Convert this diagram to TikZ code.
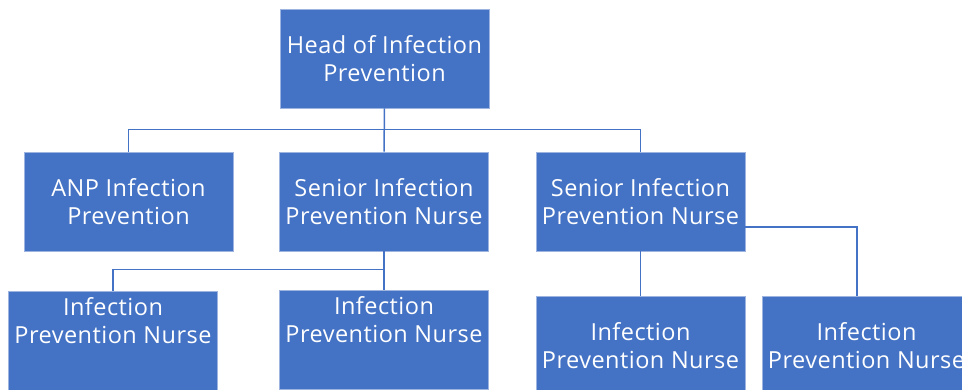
\documentclass[tikz,border=0pt]{standalone}
\usepackage{fontspec}
\setmainfont{Open Sans}[LetterSpace=2]
\usepackage{tikz}
\usetikzlibrary{positioning}
\definecolor{boxblue}{HTML}{4472C4}
\definecolor{boxedge}{HTML}{9DB4E0}

\begin{document}
\begin{tikzpicture}[x=1pt, y=-1pt,
    box/.style={rectangle, fill=boxblue, draw=boxedge, line width=0.8pt,
        minimum width=209pt, minimum height=99pt, inner sep=0pt,
        align=center, text=white, font=\fontsize{23.5}{28}\selectfont},
    lifted/.style={text height=52pt, text depth=47pt},
    link/.style={draw=boxblue, line width=1.5pt}]
    \useasboundingbox (0,0) rectangle (962,389);
    \clip (0,0) rectangle (962,389);

    % top level
    \node[box] (head) at (384.5,58.5) {Head of Infection\\Prevention};

    % second level
    \node[box] (anp)  at (128.5,201.5) {ANP Infection\\Prevention};
    \node[box] (sen1) at (384,201.5) {Senior Infection\\Prevention Nurse};
    \node[box] (sen2) at (640.5,201.5) {Senior Infection\\Prevention Nurse};

    % third level
    \node[box, lifted] (ipn1) at (113,340.5) {Infection\\Prevention Nurse};
    \node[box, lifted] (ipn2) at (384,339.5) {Infection\\Prevention Nurse};
    \node[box] (ipn3) at (640.5,345.5) {Infection\\Prevention Nurse};
    \node[box] (ipn4) at (866.5,345.5) {Infection\\Prevention Nurse};

    % connectors
    \draw[link] (head.south) -- (sen1.north);
    \draw[link] (anp.north) -- ++(0,-22) -| (sen2.north);
    \draw[link] (sen1.south) -- ++(0,18) -| (ipn1.north);
    \draw[link] (sen1.south) -- (ipn2.north);
    \draw[link] (sen2.south) -- (ipn3.north);
    \draw[link] ([yshift=-25.5pt]sen2.east) -| ([xshift=-9.5pt]ipn4.north);
\end{tikzpicture}
\end{document}
